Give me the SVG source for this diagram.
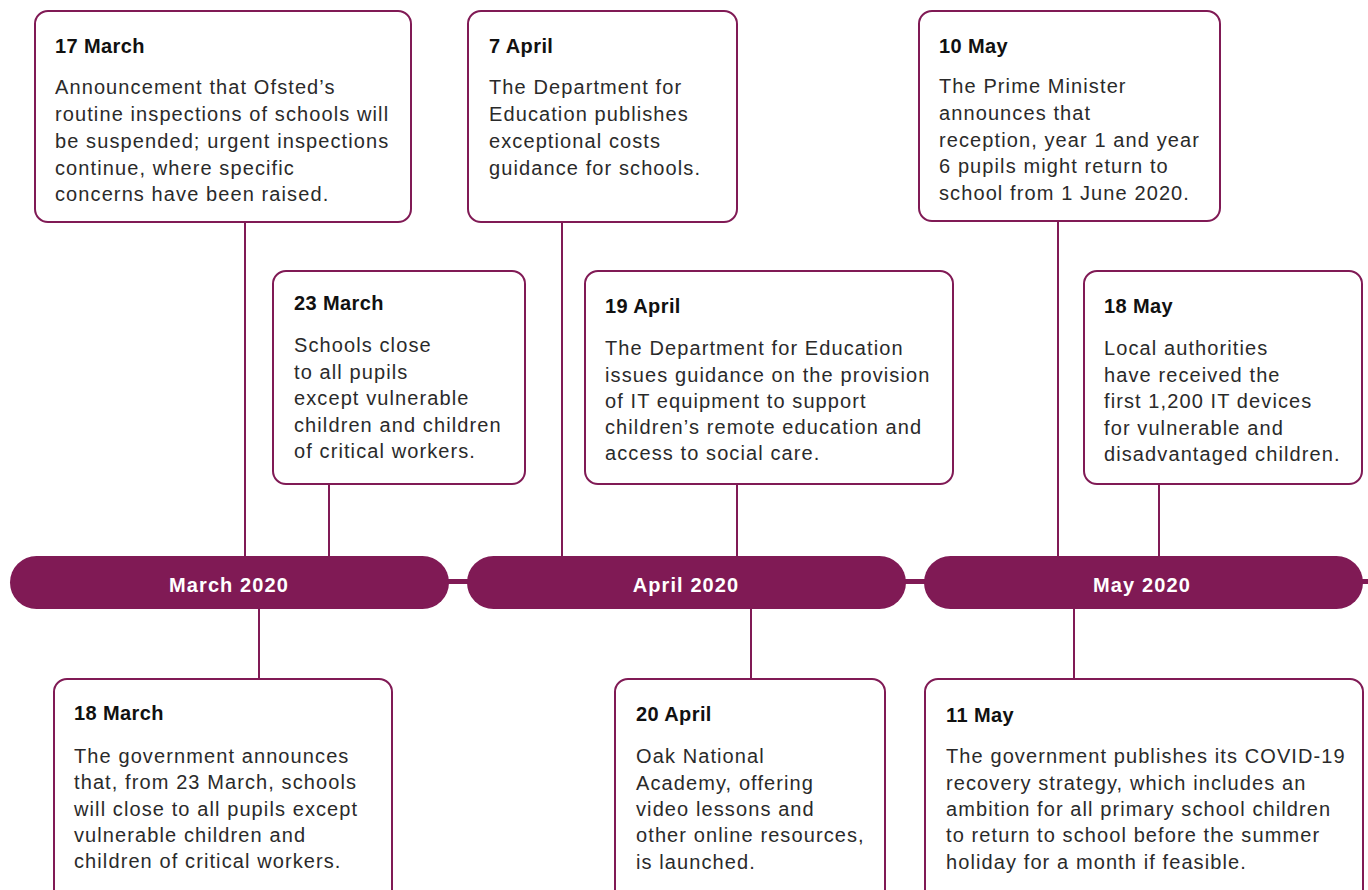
<svg xmlns="http://www.w3.org/2000/svg" width="1368" height="890" viewBox="0 0 1368 890">
<style>
.box{fill:#fff;stroke:#801a55;stroke-width:2}
.ln{stroke:#801a55;stroke-width:2;fill:none}
.pill{fill:#801a55}
.t{font-family:"Liberation Sans",Arial,sans-serif;font-size:20px;font-weight:bold;fill:#111;letter-spacing:0.4px}
.b{font-family:"Liberation Sans",Arial,sans-serif;font-size:20px;fill:#2a2a2a;letter-spacing:1.1px}
.m{font-family:"Liberation Sans",Arial,sans-serif;font-size:20px;font-weight:bold;fill:#fff;text-anchor:middle;letter-spacing:1.1px}
</style>
<rect width="1368" height="890" fill="#fff"/>
<g id="connectors">
<line class="ln" x1="245" y1="222" x2="245" y2="558"/>
<line class="ln" x1="329" y1="484" x2="329" y2="558"/>
<line class="ln" x1="562" y1="222" x2="562" y2="558"/>
<line class="ln" x1="737" y1="484" x2="737" y2="558"/>
<line class="ln" x1="1058" y1="221" x2="1058" y2="558"/>
<line class="ln" x1="1159" y1="484" x2="1159" y2="558"/>
<line class="ln" x1="259" y1="607" x2="259" y2="679"/>
<line class="ln" x1="751" y1="607" x2="751" y2="679"/>
<line class="ln" x1="1074" y1="607" x2="1074" y2="679"/>
<line x1="440" y1="581.5" x2="1368" y2="581.5" stroke="#801a55" stroke-width="5"/>
</g>
<g id="timeline">
<rect class="pill" x="10" y="556" width="439" height="53" rx="26.5"/>
<text class="m" x="229" y="592">March 2020</text>
<rect class="pill" x="467" y="556" width="439" height="53" rx="26.5"/>
<text class="m" x="686" y="592">April 2020</text>
<rect class="pill" x="924" y="556" width="439" height="53" rx="26.5"/>
<text class="m" x="1142" y="592">May 2020</text>
</g>
<g id="n17march">
<rect class="box" x="35" y="11" width="376" height="211" rx="13"/>
<text class="t" x="55" y="53">17 March</text>
<text class="b"><tspan x="55" y="94">Announcement that Ofsted’s</tspan><tspan x="55" y="121">routine inspections of schools will</tspan><tspan x="55" y="148">be suspended; urgent inspections</tspan><tspan x="55" y="174.5">continue, where specific</tspan><tspan x="55" y="201">concerns have been raised.</tspan></text>
</g>
<g id="n23march">
<rect class="box" x="273" y="271" width="252" height="213" rx="13"/>
<text class="t" x="294" y="310">23 March</text>
<text class="b"><tspan x="294" y="352">Schools close</tspan><tspan x="294" y="378.5">to all pupils</tspan><tspan x="294" y="405">except vulnerable</tspan><tspan x="294" y="431.5">children and children</tspan><tspan x="294" y="458">of critical workers.</tspan></text>
</g>
<g id="n7april">
<rect class="box" x="468" y="11" width="269" height="211" rx="13"/>
<text class="t" x="489" y="53">7 April</text>
<text class="b"><tspan x="489" y="94">The Department for</tspan><tspan x="489" y="121">Education publishes</tspan><tspan x="489" y="148">exceptional costs</tspan><tspan x="489" y="174.5">guidance for schools.</tspan></text>
</g>
<g id="n19april">
<rect class="box" x="585" y="271" width="368" height="213" rx="13"/>
<text class="t" x="605" y="313">19 April</text>
<text class="b"><tspan x="605" y="355">The Department for Education</tspan><tspan x="605" y="381.5">issues guidance on the provision</tspan><tspan x="605" y="407.5">of IT equipment to support</tspan><tspan x="605" y="434">children’s remote education and</tspan><tspan x="605" y="460">access to social care.</tspan></text>
</g>
<g id="n10may">
<rect class="box" x="919" y="11" width="301" height="210" rx="13"/>
<text class="t" x="939" y="53">10 May</text>
<text class="b"><tspan x="939" y="93">The Prime Minister</tspan><tspan x="939" y="120">announces that</tspan><tspan x="939" y="146.5">reception, year 1 and year</tspan><tspan x="939" y="173">6 pupils might return to</tspan><tspan x="939" y="200">school from 1 June 2020.</tspan></text>
</g>
<g id="n18may">
<rect class="box" x="1084" y="271" width="278" height="213" rx="13"/>
<text class="t" x="1104" y="313">18 May</text>
<text class="b"><tspan x="1104" y="355">Local authorities</tspan><tspan x="1104" y="381.5">have received the</tspan><tspan x="1104" y="408">first 1,200 IT devices</tspan><tspan x="1104" y="434.5">for vulnerable and</tspan><tspan x="1104" y="461">disadvantaged children.</tspan></text>
</g>
<g id="n18march">
<rect class="box" x="54" y="679" width="338" height="230" rx="13"/>
<text class="t" x="74" y="720">18 March</text>
<text class="b"><tspan x="74" y="763">The government announces</tspan><tspan x="74" y="789">that, from 23 March, schools</tspan><tspan x="74" y="815.5">will close to all pupils except</tspan><tspan x="74" y="842">vulnerable children and</tspan><tspan x="74" y="868">children of critical workers.</tspan></text>
</g>
<g id="n20april">
<rect class="box" x="615" y="679" width="270" height="230" rx="13"/>
<text class="t" x="636" y="721">20 April</text>
<text class="b"><tspan x="636" y="763">Oak National</tspan><tspan x="636" y="789.5">Academy, offering</tspan><tspan x="636" y="816">video lessons and</tspan><tspan x="636" y="842">other online resources,</tspan><tspan x="636" y="868.5">is launched.</tspan></text>
</g>
<g id="n11may">
<rect class="box" x="925" y="679" width="438" height="230" rx="13"/>
<text class="t" x="946" y="722">11 May</text>
<text class="b"><tspan x="946" y="763">The government publishes its COVID-19</tspan><tspan x="946" y="789.5">recovery strategy, which includes an</tspan><tspan x="946" y="816">ambition for all primary school children</tspan><tspan x="946" y="842">to return to school before the summer</tspan><tspan x="946" y="868.5">holiday for a month if feasible.</tspan></text>
</g>
</svg>
